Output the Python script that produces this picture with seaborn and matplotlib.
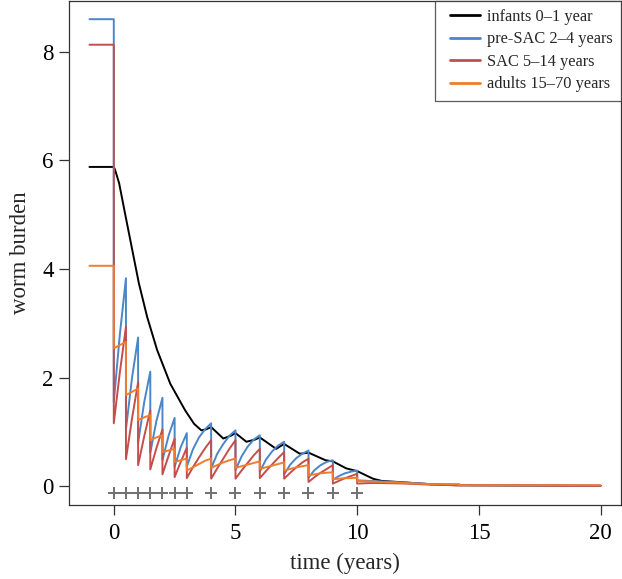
import numpy as np
import pandas as pd
import matplotlib
matplotlib.use("Agg")
import matplotlib.pyplot as plt
from matplotlib.lines import Line2D
from matplotlib.legend_handler import HandlerLine2D
import seaborn as sns

# ---------------- data ----------------
treat_times = [0, 0.5, 1, 1.5, 2, 2.5, 3, 4, 5, 6, 7, 8, 9, 10]
marker_level = -0.12

pre_t = [-1, 0]
blue_pre = [8.6, 8.6]
red_pre = [8.13, 8.13]
orange_pre = [4.06, 4.06]

# values sampled evenly within each inter-treatment interval (trough ... peak)
blue_seg = [
    [1.55, 2.80, 3.83],
    [1.05, 2.00, 2.74],
    [0.80, 1.55, 2.11],
    [0.62, 1.20, 1.63],
    [0.48, 0.93, 1.26],
    [0.36, 0.72, 0.98],
    [0.36, 0.68, 0.90, 1.05, 1.16],
    [0.33, 0.60, 0.78, 0.93, 1.03],
    [0.30, 0.55, 0.73, 0.86, 0.94],
    [0.27, 0.49, 0.64, 0.75, 0.82],
    [0.22, 0.40, 0.52, 0.60, 0.66],
    [0.16, 0.30, 0.39, 0.45, 0.48],
    [0.12, 0.19, 0.24, 0.27, 0.29],
]
red_seg = [
    [1.16, 2.10, 2.94],
    [0.50, 1.25, 1.92],
    [0.39, 0.92, 1.40],
    [0.31, 0.70, 1.05],
    [0.22, 0.56, 0.88],
    [0.17, 0.45, 0.71],
    [0.15, 0.35, 0.53, 0.70, 0.85],
    [0.14, 0.33, 0.51, 0.69, 0.85],
    [0.14, 0.29, 0.43, 0.57, 0.69],
    [0.15, 0.28, 0.40, 0.52, 0.63],
    [0.14, 0.25, 0.35, 0.44, 0.51],
    [0.08, 0.17, 0.25, 0.32, 0.39],
    [0.05, 0.10, 0.15, 0.19, 0.23],
]
orange_seg = [
    [2.54, 2.60, 2.66],
    [1.68, 1.74, 1.80],
    [1.22, 1.27, 1.31],
    [0.85, 0.90, 0.94],
    [0.63, 0.66, 0.69],
    [0.45, 0.48, 0.51],
    [0.29, 0.35, 0.41, 0.47, 0.51],
    [0.34, 0.39, 0.44, 0.48, 0.51],
    [0.34, 0.37, 0.40, 0.43, 0.46],
    [0.32, 0.35, 0.38, 0.41, 0.44],
    [0.29, 0.32, 0.35, 0.37, 0.39],
    [0.20, 0.22, 0.24, 0.25, 0.26],
    [0.13, 0.14, 0.15, 0.15, 0.16],
]

tail_t = [10, 10.5, 11, 12, 13, 14.2, 14.2, 20]
blue_tail = [0.11, 0.10, 0.09, 0.07, 0.04, 0.03, 0.02, 0.01]
red_tail = [0.05, 0.06, 0.06, 0.05, 0.03, 0.02, 0.02, 0.01]
orange_tail = [0.10, 0.09, 0.08, 0.06, 0.04, 0.04, 0.02, 0.02]

black_t = [-1, 0, 0.05, 0.22, 0.49, 0.76, 1.03, 1.37, 1.78, 2.32, 2.93, 3.3,
           3.6, 3.8, 4.0, 4.5, 4.8, 5.0, 5.45, 5.8, 6.0, 6.67, 6.85, 7.0, 7.64,
           7.85, 8.0, 8.7, 9.0, 9.55, 10.0, 10.65, 11.0, 12.0, 13.0, 14.0, 20.0]
black_v = [5.88, 5.88, 5.83, 5.58, 4.96, 4.35, 3.74, 3.12, 2.51, 1.89, 1.40, 1.15,
           1.03, 1.05, 1.09, 0.88, 0.93, 0.98, 0.82, 0.86, 0.90, 0.69, 0.74, 0.78,
           0.60, 0.61, 0.62, 0.48, 0.46, 0.33, 0.28, 0.14, 0.10, 0.07, 0.04, 0.02,
           0.01]

labels = ["infants 0\u20131 year", "pre-SAC 2\u20134 years",
          "SAC 5\u201314 years", "adults 15\u201370 years"]
colors = ["#000000", "#4a86c8", "#c44e4b", "#ee7d2e"]


def build(pre_v, segs, tail_v):
    t = list(pre_t)
    v = list(pre_v)
    for i, vals in enumerate(segs):
        t += list(np.linspace(treat_times[i], treat_times[i + 1], len(vals)))
        v += vals
    t += tail_t
    v += tail_v
    return np.array(t), np.array(v)


series = [
    (np.array(black_t), np.array(black_v)),
    build(blue_pre, blue_seg, blue_tail),
    build(red_pre, red_seg, red_tail),
    build(orange_pre, orange_seg, orange_tail),
]

# ---------------- plot ----------------
sns.set_style("ticks")
plt.rcParams["font.family"] = ["Liberation Serif", "DejaVu Serif"]

fig = plt.figure(figsize=(6.22, 5.79), dpi=100)
ax = fig.add_axes([69 / 622, 1 - 505 / 579, (621 - 69) / 622, 504.5 / 579])

for (t, v), lab, col in zip(series, labels, colors):
    df = pd.DataFrame({"t": t, "v": v})
    sns.lineplot(data=df, x="t", y="v", ax=ax, color=col, lw=1.4,
                 estimator=None, sort=False, label=lab)

ax.plot(treat_times, [marker_level] * len(treat_times), ls="none", marker="+",
        ms=8, mew=1.4, color="#707070", clip_on=False)

ax.set_xlim(-1.84, 20.84)
ax.set_ylim(-0.344, 8.944)
ax.set_xticks([0, 5, 10, 15, 20])
ax.set_yticks([0, 2, 4, 6, 8])
ax.set_xlabel("time (years)", fontsize=16.5, labelpad=6)
ax.set_ylabel("worm burden", fontsize=16.5, labelpad=8)
ax.tick_params(direction="out", length=7, width=0.9, colors="#333333",
               labelsize=16.5, labelcolor="black")
ax.tick_params(axis="x", pad=6)
ax.tick_params(axis="y", pad=4)
for s in ax.spines.values():
    s.set_visible(True)
    s.set_linewidth(0.9)
    s.set_color("#333333")

leg = ax.legend(loc="upper right", fontsize=11.8, frameon=True, fancybox=False,
                borderaxespad=0, handlelength=2.25, handletextpad=0.45,
                labelspacing=0.4, borderpad=0.5,
                handler_map={Line2D: HandlerLine2D(xpad=0.45)})
leg.get_frame().set_edgecolor("#333333")
leg.get_frame().set_linewidth(0.9)
for line in leg.get_lines():
    line.set_linewidth(2)

fig.savefig("out.png", dpi=100)
